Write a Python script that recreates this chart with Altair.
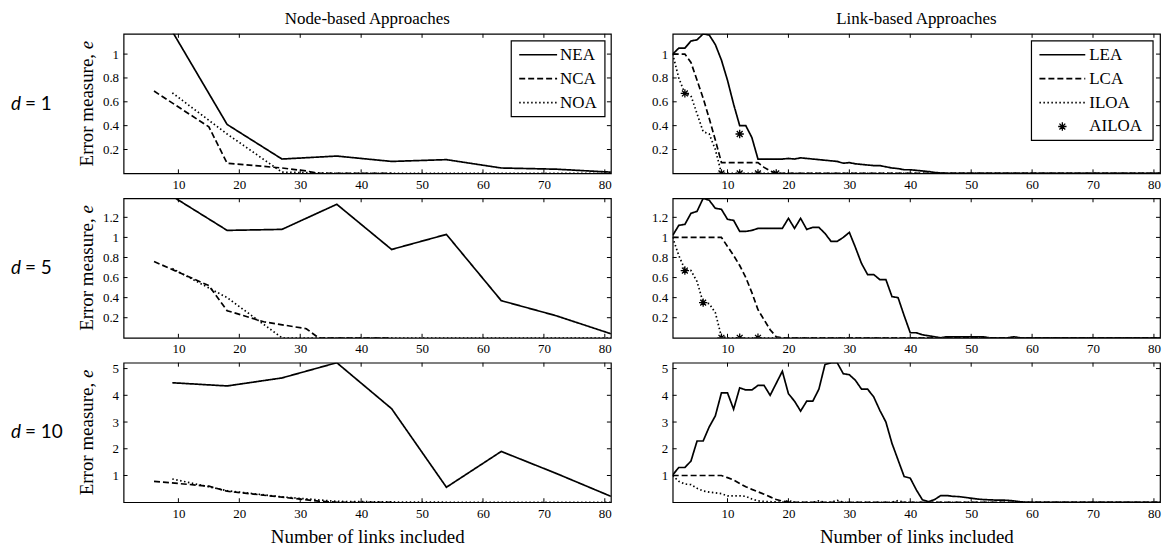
import altair as alt
import pandas as pd

# ---------------- data ----------------
W, H = 489, 140
X_TICKS = [10, 20, 30, 40, 50, 60, 70, 80]
X_DOMAIN = [1, 81]
D_VALUES = [1, 5, 10]
Y_TICKS = {1: [0.2, 0.4, 0.6, 0.8, 1.0],
           5: [0.2, 0.4, 0.6, 0.8, 1.0, 1.2],
           10: [1, 2, 3, 4, 5]}
Y_MAX = {1: 1.17, 5: 1.39, 10: 5.22}

NODE_NAMES = ["NEA", "NCA", "NOA"]
LINK_NAMES = ["LEA", "LCA", "ILOA", "AILOA"]
COL_TITLES = ["Node-based Approaches", "Link-based Approaches"]

# node-based approaches
NEA_X = [9, 18, 27, 36, 45, 54, 63, 72, 81]
NEA = {1: [1.19, 0.41, 0.12, 0.145, 0.10, 0.115, 0.045, 0.035, 0.01],
       5: [1.41, 1.07, 1.08, 1.33, 0.88, 1.03, 0.37, 0.22, 0.04],
       10: [4.47, 4.35, 4.65, 5.22, 3.50, 0.56, 1.90, 1.08, 0.22]}
NCA_X = {1: [6, 15, 18, 27, 31, 33, 45],
         5: [6, 15, 18, 24, 31, 33, 45],
         10: [6, 15, 18, 27, 33, 36, 45]}
NCA = {1: [0.69, 0.39, 0.085, 0.045, 0.02, 0.0, 0.0],
       5: [0.76, 0.52, 0.27, 0.16, 0.09, 0.0, 0.0],
       10: [0.78, 0.60, 0.41, 0.19, 0.04, 0.0, 0.0]}
NOA_X = [9, 18, 27, 36, 45, 54, 63, 72, 81]
NOA = {1: [0.675, 0.33, 0.01, 0.0, 0.0, 0.0, 0.0, 0.0, 0.0],
       5: [0.69, 0.40, 0.0, 0.0, 0.0, 0.0, 0.0, 0.0, 0.0],
       10: [0.87, 0.43, 0.20, 0.03, 0.01, 0.0, 0.0, 0.0, 0.0]}

# link-based approaches (one value per link count 1..81)
LINK_X = list(range(1, 82))
LEA = {
    1: [1.00, 1.05, 1.05, 1.11, 1.12, 1.17, 1.16, 1.08, 0.95, 0.78,
        0.58, 0.40, 0.40, 0.30, 0.12, 0.12, 0.12, 0.12, 0.12, 0.125,
        0.12, 0.13, 0.125, 0.12, 0.115, 0.11, 0.105, 0.10, 0.085, 0.09,
        0.08, 0.075, 0.07, 0.065, 0.065, 0.055, 0.045, 0.04, 0.03, 0.03,
        0.025, 0.02, 0.015, 0.008, 0.003] + [0.0] * 36,
    5: [1.02, 1.12, 1.13, 1.24, 1.26, 1.39, 1.37, 1.29, 1.28, 1.18,
        1.17, 1.06, 1.06, 1.07, 1.09, 1.09, 1.09, 1.09, 1.09, 1.19,
        1.09, 1.19, 1.08, 1.10, 1.10, 1.04, 0.96, 0.96, 1.00, 1.05,
        0.90, 0.74, 0.63, 0.63, 0.58, 0.58, 0.41, 0.40, 0.22, 0.05,
        0.05, 0.03, 0.02, 0.01, 0.0, 0.01, 0.01, 0.01, 0.01, 0.01,
        0.01, 0.01, 0.0, 0.0, 0.0, 0.0, 0.01, 0.0] + [0.0] * 23,
    10: [1.02, 1.30, 1.30, 1.54, 2.29, 2.29, 2.82, 3.23, 4.09, 4.09,
         3.48, 4.28, 4.20, 4.20, 4.37, 4.37, 4.00, 4.45, 4.90, 4.06,
         3.78, 3.41, 3.78, 3.78, 4.23, 5.15, 5.22, 5.22, 4.81, 4.77,
         4.56, 4.23, 4.23, 3.94, 3.44, 3.00, 2.20, 1.58, 0.96, 0.90,
         0.46, 0.09, 0.02, 0.10, 0.25, 0.25, 0.22, 0.21, 0.18, 0.15,
         0.12, 0.10, 0.09, 0.08, 0.08, 0.07, 0.05, 0.02] + [0.0] * 23,
}
LCA = {
    1: [1.0, 1.0, 1.0, 0.93, 0.78, 0.63, 0.46, 0.28, 0.09, 0.09,
        0.09, 0.09, 0.09, 0.09, 0.09, 0.05, 0.02, 0.0] + [0.0] * 63,
    5: [1.0, 1.0, 1.0, 1.0, 1.0, 1.0, 1.0, 1.0, 1.0, 0.91,
        0.82, 0.72, 0.60, 0.45, 0.28, 0.18, 0.08, 0.01] + [0.0] * 63,
    10: [1.0, 1.0, 1.0, 1.0, 1.0, 1.0, 1.0, 1.0, 1.0, 0.92,
         0.83, 0.70, 0.58, 0.48, 0.39, 0.30, 0.20, 0.10, 0.04, 0.01] + [0.0] * 61,
}
ILOA = {
    1: [1.0, 0.80, 0.67, 0.65, 0.50, 0.35, 0.33, 0.20, 0.0] + [0.0] * 72,
    5: [1.0, 0.82, 0.68, 0.67, 0.56, 0.35, 0.34, 0.25, 0.01] + [0.0] * 72,
    10: [1.0, 0.78, 0.68, 0.66, 0.52, 0.42, 0.38, 0.35, 0.32, 0.24,
         0.24, 0.24, 0.22, 0.12, 0.05, 0.03, 0.02, 0.01, 0.0, 0.06,
         0.0, 0.0, 0.0, 0.0, 0.05, 0.0, 0.0, 0.07, 0.0, 0.0,
         0.0, 0.0, 0.0, 0.0, 0.0, 0.0, 0.0, 0.06] + [0.0] * 43,
}
AILOA_X = {1: [3, 9, 12, 12, 15, 18], 5: [3, 6, 9, 12, 15], 10: []}
AILOA = {1: [0.67, 0.0, 0.33, 0.0, 0.0, 0.0], 5: [0.67, 0.35, 0.0, 0.0, 0.0], 10: []}

# ---------------- styling ----------------
SERIF = "Liberation Serif"
SANS = "Lato"
DASHES = [[1, 0], [6, 3], [1.5, 2.5]]
STAR = "M0,-1L0,1M-1,0L1,0M-0.7,-0.7L0.7,0.7M-0.7,0.7L0.7,-0.7"
TICK_LEN = 4
LINE_W = 1.7


def series_frame(kind, d):
    rows = []
    if kind == "node":
        for x, y in zip(NEA_X, NEA[d]):
            rows.append({"s": "NEA", "x": x, "y": y})
        for x, y in zip(NCA_X[d], NCA[d]):
            rows.append({"s": "NCA", "x": x, "y": y})
        for x, y in zip(NOA_X, NOA[d]):
            rows.append({"s": "NOA", "x": x, "y": y})
    else:
        for name, vals in (("LEA", LEA[d]), ("LCA", LCA[d]), ("ILOA", ILOA[d])):
            for x, y in zip(LINK_X, vals):
                rows.append({"s": name, "x": x, "y": y})
    return pd.DataFrame(rows)


def legend_layers(names, box, line_x, text_x, ys):
    one = pd.DataFrame({"k": [0]})
    layers = [alt.Chart(one).mark_rect(fill="white", stroke="black", strokeWidth=1.2).encode(
        x=alt.value(box[0]), x2=alt.value(box[1]), y=alt.value(box[2]), y2=alt.value(box[3]))]
    for i, name in enumerate(names):
        yy = ys[i]
        if name == "AILOA":
            layers.append(alt.Chart(one).mark_point(
                shape=STAR, size=70, filled=False, color="black", strokeWidth=1.3, opacity=1).encode(
                x=alt.value((line_x[0] + line_x[1]) / 2), y=alt.value(yy)))
        else:
            layers.append(alt.Chart(one).mark_rule(
                color="black", strokeWidth=LINE_W, strokeDash=DASHES[i]).encode(
                x=alt.value(line_x[0]), x2=alt.value(line_x[1]), y=alt.value(yy)))
        layers.append(alt.Chart(pd.DataFrame({"t": [name]})).mark_text(
            font=SERIF, fontSize=17, align="left", baseline="middle", color="black").encode(
            x=alt.value(text_x), y=alt.value(yy), text="t:N"))
    return layers


def make_panel(d, kind):
    names = NODE_NAMES if kind == "node" else LINK_NAMES
    bottom = d == D_VALUES[-1]
    top = d == D_VALUES[0]
    xs = alt.Scale(domain=X_DOMAIN, nice=False, zero=False)
    ys = alt.Scale(domain=[0, Y_MAX[d]], nice=False, zero=False)
    xaxis = alt.Axis(values=X_TICKS, labelPadding=5, labelFlush=False, labelOverlap=False,
                     titleY=40, titleBaseline="alphabetic")
    yaxis = alt.Axis(values=Y_TICKS[d], format="~g", labelPadding=5, labelFlush=False,
                     labelOverlap=False)
    xtitle = "Number of links included" if bottom else ""

    def X(f):
        return alt.X(f, type="quantitative", scale=xs, axis=xaxis, title=xtitle)

    def Y(f):
        return alt.Y(f, type="quantitative", scale=ys, axis=yaxis, title="")

    df = series_frame(kind, d)
    line_names = names[:3]
    lines = alt.Chart(df).mark_line(clip=True, color="black", strokeWidth=LINE_W).encode(
        x=X("x"), y=Y("y"),
        strokeDash=alt.StrokeDash("s:N", scale=alt.Scale(domain=line_names, range=DASHES), legend=None),
        detail="s:N",
    )
    layers = [lines]

    if kind == "link" and AILOA_X[d]:
        star_df = pd.DataFrame({"x": AILOA_X[d], "y": AILOA[d]})
        layers.append(alt.Chart(star_df).mark_point(
            shape=STAR, size=70, filled=False, color="black", strokeWidth=1.3, opacity=1, clip=True).encode(
            x=X("x"), y=Y("y")))

    # inward ticks on all four sides
    xt = pd.DataFrame({"x": X_TICKS})
    yt = pd.DataFrame({"y": Y_TICKS[d]})
    layers.append(alt.Chart(xt).mark_rule(color="black", strokeWidth=1).encode(
        x=X("x"), y=alt.value(H), y2=alt.value(H - TICK_LEN)))
    layers.append(alt.Chart(xt).mark_rule(color="black", strokeWidth=1).encode(
        x=X("x"), y=alt.value(0), y2=alt.value(TICK_LEN)))
    layers.append(alt.Chart(yt).mark_rule(color="black", strokeWidth=1).encode(
        y=Y("y"), x=alt.value(0), x2=alt.value(TICK_LEN)))
    layers.append(alt.Chart(yt).mark_rule(color="black", strokeWidth=1).encode(
        y=Y("y"), x=alt.value(W - TICK_LEN), x2=alt.value(W)))

    if top:
        if kind == "node":
            layers += legend_layers(NODE_NAMES, (389, 483, 7, 83), (397, 435), 438, [21, 45, 69])
        else:
            layers += legend_layers(LINK_NAMES, (360, 482, 7, 107), (368, 414), 418, [21, 45, 69, 93])
        title = COL_TITLES[0] if kind == "node" else COL_TITLES[1]
        layers.append(alt.Chart(pd.DataFrame({"t": [title]})).mark_text(
            font=SERIF, fontSize=17, align="center", baseline="alphabetic", color="black").encode(
            x=alt.value(W / 2), y=alt.value(-10), text="t:N"))

    if kind == "node":
        # y-axis title "Error measure, e" (italic e)
        layers.append(alt.Chart(pd.DataFrame({"t": ["Error measure,"]})).mark_text(
            font=SERIF, fontSize=19, angle=270, align="left", baseline="alphabetic", color="black").encode(
            x=alt.value(-31), y=alt.value(133), text="t:N"))
        layers.append(alt.Chart(pd.DataFrame({"t": ["e"]})).mark_text(
            font=SERIF, fontSize=19, fontStyle="italic", angle=270, align="left",
            baseline="alphabetic", color="black").encode(
            x=alt.value(-31), y=alt.value(15.4), text="t:N"))
        # row label "d = n"
        layers.append(alt.Chart(pd.DataFrame({"t": ["d"]})).mark_text(
            font=SANS, fontSize=19, fontStyle="italic", align="left", baseline="middle", color="black").encode(
            x=alt.value(-113), y=alt.value(70), text="t:N"))
        layers.append(alt.Chart(pd.DataFrame({"t": [f"= {d}"]})).mark_text(
            font=SANS, fontSize=19, align="left", baseline="middle", color="black").encode(
            x=alt.value(-99), y=alt.value(70), text="t:N"))

    return alt.layer(*layers).properties(width=W, height=H)


panels = []
for d in D_VALUES:
    panels.append(make_panel(d, "node"))
    panels.append(make_panel(d, "link"))

chart = alt.concat(*panels, columns=2, spacing={"row": 25, "column": 62}, bounds="flush").properties(
    padding={"left": 10, "top": 8, "right": 3, "bottom": 4},
    background="white",
).configure_view(
    stroke="black", strokeWidth=1.2
).configure_axis(
    labelFont=SERIF, labelFontSize=13, labelColor="black",
    titleFont=SERIF, titleFontSize=19, titleFontWeight="normal", titleColor="black",
    tickSize=0, domain=False, grid=False,
)

chart.save("out.html", embed_options={"renderer": "svg", "actions": False})
